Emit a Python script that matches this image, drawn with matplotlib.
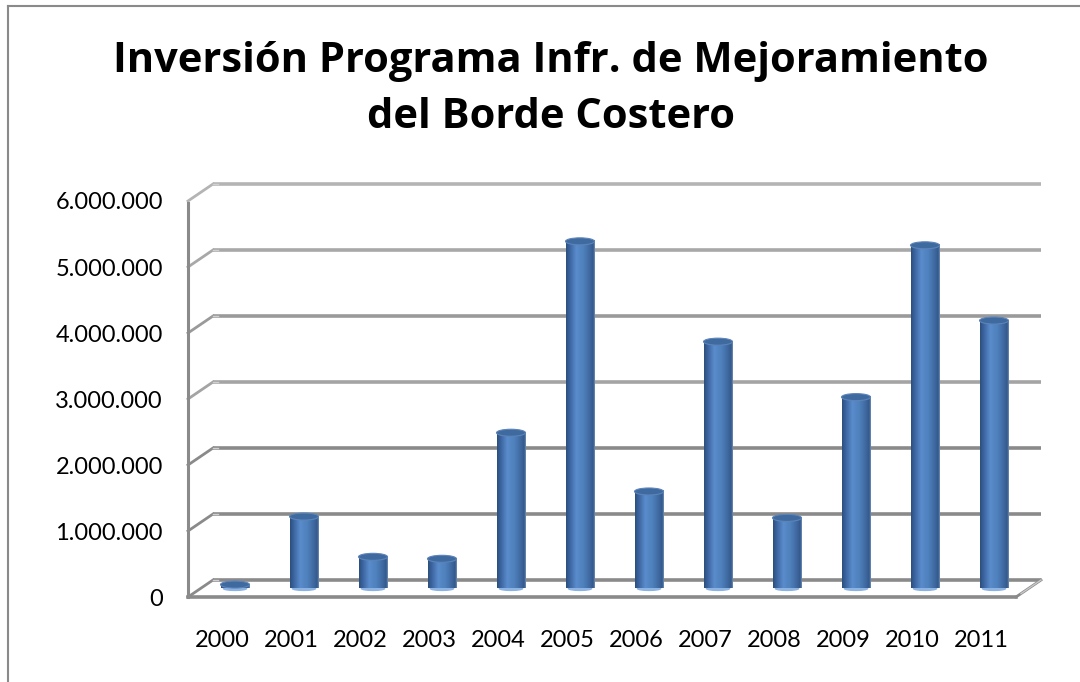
import numpy as np
import matplotlib
matplotlib.use("Agg")
import matplotlib.pyplot as plt
from matplotlib.patches import Ellipse
from matplotlib.colors import LinearSegmentedColormap
from matplotlib.ticker import FuncFormatter

# ------------------------------------------------------------------
# DATA
years = ["2000", "2001", "2002", "2003", "2004", "2005",
         "2006", "2007", "2008", "2009", "2010", "2011"]
inversion = [60000, 1090000, 480000, 450000, 2360000, 5260000,
             1470000, 3740000, 1070000, 2900000, 5200000, 4060000]
y_ticks = [0, 1000000, 2000000, 3000000, 4000000, 5000000, 6000000]
title_1 = "Inversión Programa Infr. de Mejoramiento"
title_2 = "del Borde Costero"

plt.rcParams['font.family'] = ['Lato', 'DejaVu Sans']

W, H = 1080, 682
fig = plt.figure(figsize=(W / 100, H / 100), dpi=100)

# front plane of the 3D box (pixels)
x_left, x_right = 188, 1016
y_zero, y_top = 597, 201
ax = fig.add_axes([x_left / W, 1 - y_zero / H,
                   (x_right - x_left) / W, (y_zero - y_top) / H])
n = len(years)
ax.set_xlim(-0.5, n - 0.5)
ax.set_ylim(0, 6000000)

# depth of the box converted to data units
px_x = (x_right - x_left) / n
px_y = (y_zero - y_top) / 6000000
DX = 25 / px_x
DY = 17 / px_y

# ------------------------------------------------------------------
# back wall gridlines + side wall
grid_cols = ['#8a8a8a', '#8a8a8a', '#8a8a8a', '#a4a4a4', '#9a9a9a', '#a8a8a8', '#b4b4b4']
for v, c in zip(y_ticks, grid_cols):
    ax.plot([-0.5 + DX, n - 0.5 + DX], [v + DY, v + DY], color=c, lw=2.6,
            solid_capstyle='butt', clip_on=False, zorder=1)
    ax.plot([-0.5, -0.5 + DX], [v, v + DY], color=c, lw=2.0,
            clip_on=False, zorder=1)
    ax.plot([-0.5 + DX, -0.5 + DX * 1.2], [v + DY, v + DY], color='#d0d0d0', lw=1.0,
            clip_on=False, zorder=1)
ax.plot([-0.5, -0.5], [0, 6000000 - DY * 0.1], color='#8a8a8a', lw=2.2,
        clip_on=False, zorder=1)
# floor front edge
ax.plot([-0.5, n - 0.5], [0, 0], color='#8a8a8a', lw=2.6, clip_on=False, zorder=1)
ax.plot([n - 0.5, n - 0.5 + DX], [0, DY], color='#8a8a8a', lw=2.0, clip_on=False, zorder=1)
ax.plot([n - 0.5 + DX * 0.2, n - 0.5 + DX], [DY * 0.2, DY], color='#c8c8c8', lw=1.0,
        clip_on=False, zorder=1)

# ------------------------------------------------------------------
# cylinders
cyl = LinearSegmentedColormap.from_list('cyl', [
    (0.00, '#2c4f7c'), (0.10, '#38609a'), (0.35, '#5a8bcb'),
    (0.60, '#4f81bd'), (0.85, '#3d669c'), (0.95, '#34598a'), (1.00, '#6d8db5')])
grad = np.linspace(0, 1, 64).reshape(1, -1)
bw = 0.42
eh = 7 / px_y
for i, v in enumerate(inversion):
    cx = i + DX / 2
    b0 = DY / 2
    ax.add_patch(Ellipse((cx, b0), bw * 0.8, eh * 0.55, color='#8db3e2', zorder=3, clip_on=False))
    ax.imshow(grad, cmap=cyl, aspect='auto', extent=(cx - bw / 2, cx + bw / 2, b0, b0 + v),
              zorder=4, clip_on=False, interpolation='bilinear')
    ax.add_patch(Ellipse((cx, b0 + v), bw, eh, facecolor='#3e6aa0', edgecolor='#5c84b8',
                         lw=0.8, zorder=5, clip_on=False))

ax.set_xlim(-0.5, n - 0.5)
ax.set_ylim(0, 6000000)
ax.set_aspect('auto')

# ------------------------------------------------------------------
# axes text
for s in ax.spines.values():
    s.set_visible(False)
ax.set_xticks(range(n))
ax.set_xticklabels(years)
ax.set_yticks(y_ticks)
ax.yaxis.set_major_formatter(FuncFormatter(lambda v, p: f"{int(v):,}".replace(",", ".")))
ax.tick_params(axis='both', length=0, labelsize=17, colors='#000000')
ax.tick_params(axis='y', pad=18)
ax.tick_params(axis='x', pad=24)
ax.patch.set_visible(False)

fig.text(551 / W, 1 - 72 / H, title_1, ha='center', va='baseline',
         fontsize=30, fontweight='bold', family=['Open Sans', 'DejaVu Sans'])
fig.text(551 / W, 1 - 128 / H, title_2, ha='center', va='baseline',
         fontsize=30, fontweight='bold', family=['Open Sans', 'DejaVu Sans'])

# chart frame
fig.add_artist(plt.Line2D([8 / W, 8 / W], [0, 1 - 6 / H], color='#8a8a8a', lw=1.5,
                          transform=fig.transFigure))
fig.add_artist(plt.Line2D([8 / W, 1], [1 - 6 / H, 1 - 6 / H], color='#8a8a8a', lw=1.5,
                          transform=fig.transFigure))

fig.savefig("out.png", dpi=100, facecolor='white')
